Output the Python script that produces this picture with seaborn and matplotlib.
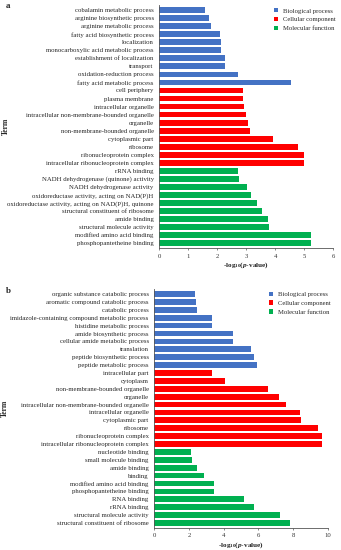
import matplotlib
matplotlib.use("Agg")
import matplotlib.pyplot as plt
import seaborn as sns
import pandas as pd

sns.set_theme(style="ticks")
plt.rcParams['font.family'] = ['Liberation Serif', 'DejaVu Serif']
plt.rcParams['mathtext.fontset'] = 'custom'
plt.rcParams['mathtext.rm'] = 'Liberation Serif:bold'
plt.rcParams['mathtext.it'] = 'Liberation Serif:italic:bold'
plt.rcParams['mathtext.bf'] = 'Liberation Serif:bold'

categories = ["Biological process", "Cellular component", "Molecular function"]
colors = ["#4472C4", "#FF0000", "#00B050"]

terms_a = [
    "cobalamin metabolic process", "arginine biosynthetic process", "arginine metabolic process",
    "fatty acid biosynthetic process", "localization", "monocarboxylic acid metabolic process",
    "establishment of localization", "transport", "oxidation-reduction process",
    "fatty acid metabolic process",
    "cell periphery", "plasma membrane", "intracellular organelle",
    "intracellular non-membrane-bounded organelle", "organelle", "non-membrane-bounded organelle",
    "cytoplasmic part", "ribosome", "ribonucleoprotein complex",
    "intracellular ribonucleoprotein complex",
    "rRNA binding", "NADH dehydrogenase (quinone) activity", "NADH dehydrogenase activity",
    "oxidoreductase activity, acting on NAD(P)H", "oxidoreductase activity, acting on NAD(P)H, quinone",
    "structural constituent of ribosome", "amide binding", "structural molecule activity",
    "modified amino acid binding", "phosphopantetheine binding",
]
values_a = [1.59, 1.72, 1.77, 2.09, 2.13, 2.13, 2.27, 2.27, 2.70, 4.55,
            2.87, 2.87, 2.91, 2.98, 3.07, 3.12, 3.93, 4.77, 4.98, 4.98,
            2.72, 2.74, 3.03, 3.17, 3.36, 3.55, 3.75, 3.78, 5.22, 5.22]
groups_a = [categories[0]] * 10 + [categories[1]] * 10 + [categories[2]] * 10

terms_b = [
    "organic substance catabolic process", "aromatic compound catabolic process", "catabolic process",
    "imidazole-containing compound metabolic process", "histidine metabolic process",
    "amide biosynthetic process", "cellular amide metabolic process", "translation",
    "peptide biosynthetic process", "peptide metabolic process",
    "intracellular part", "cytoplasm", "non-membrane-bounded organelle", "organelle",
    "intracellular non-membrane-bounded organelle", "intracellular organelle", "cytoplasmic part",
    "ribosome", "ribonucleoprotein complex", "intracellular ribonucleoprotein complex",
    "nucleotide binding", "small molecule binding", "amide binding", "binding",
    "modified amino acid binding", "phosphopantetheine binding", "RNA binding", "rRNA binding",
    "structural molecule activity", "structural constituent of ribosome",
]
values_b = [2.37, 2.40, 2.46, 3.31, 3.31, 4.56, 4.56, 5.60, 5.73, 5.91,
            3.35, 4.08, 6.56, 7.21, 7.62, 8.39, 8.45, 9.43, 9.66, 9.66,
            2.13, 2.15, 2.48, 2.85, 3.46, 3.46, 5.18, 5.77, 7.27, 7.85]
groups_b = [categories[0]] * 10 + [categories[1]] * 10 + [categories[2]] * 10

xticks_a = [0, 1, 2, 3, 4, 5, 6]
xticks_b = [0, 2, 4, 6, 8, 10]

fig = plt.figure(figsize=(3.41, 5.5), dpi=100)

W, H = 341.0, 550.0

def make_panel(rect, terms, values, groups, xticks, letter, letter_y, legend_anchor, ylab_x):
    ax = fig.add_axes(rect)
    df = pd.DataFrame({"Term": terms, "value": values, "group": groups})
    sns.barplot(data=df, x="value", y="Term", hue="group", hue_order=categories,
                palette=colors, saturation=1, dodge=False, width=0.72, ax=ax, orient="h",
                edgecolor="none", legend=True)
    ax.set_xlim(xticks[0], xticks[-1])
    ax.set_ylim(len(terms) - 0.4, -0.6)
    ax.set_xticks(xticks)
    ax.set_xticklabels([str(t) for t in xticks], fontsize=4.8, color="#333333")
    ax.tick_params(axis="y", length=0, pad=4, labelsize=4.85)
    ax.tick_params(axis="x", length=1.5, width=0.5, pad=2.5, color="#555555")
    sns.despine(ax=ax)
    for s in ("left", "bottom"):
        ax.spines[s].set_linewidth(0.6)
        ax.spines[s].set_color("#555555")
    ax.set_xlabel(r"-log$_{10}$($\mathit{p}$-value)", fontsize=5.2, fontweight="bold", labelpad=1.5)
    ax.set_ylabel("Term", fontsize=5.5, fontweight="bold")
    ax.yaxis.set_label_coords(ylab_x, 0.5)
    sns.move_legend(ax, "upper left", bbox_to_anchor=legend_anchor, frameon=False,
                    fontsize=4.8, title=None, handlelength=0.6, handleheight=0.6,
                    handletextpad=0.8, labelspacing=0.5, borderaxespad=0)
    fig.text(6 / W, 1 - letter_y / H, letter, fontsize=6.5, fontweight="bold",
             ha="left", va="center")
    return ax

rect_a = [159.3 / W, 1 - 248 / H, 174 / W, 242.7 / H]
rect_b = [154.3 / W, 1 - 527.7 / H, 173.4 / W, 238.4 / H]

make_panel(rect_a, terms_a, values_a, groups_a, xticks_a, "a", 6,
           ((271 - 159.3) / 174, (248 - 5.5) / 242.7), -0.86)
make_panel(rect_b, terms_b, values_b, groups_b, xticks_b, "b", 291,
           ((266 - 154.3) / 173.4, (527.7 - 289) / 238.4), -0.84)

fig.savefig("out.png", dpi=100)
